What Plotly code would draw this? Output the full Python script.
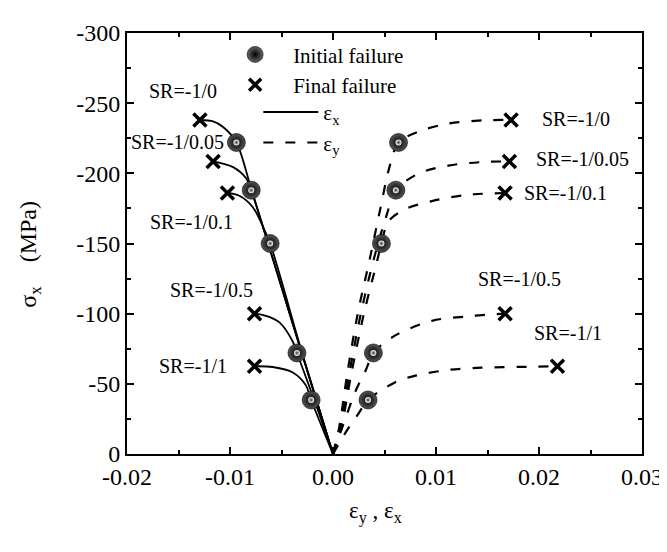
import plotly.graph_objects as go

# ---------------- data ----------------
sr_labels = ["SR=-1/0", "SR=-1/0.05", "SR=-1/0.1", "SR=-1/0.5", "SR=-1/1"]

x_tickvals = [-0.02, -0.01, 0.0, 0.01, 0.02, 0.03]
x_ticktext = ["-0.02", "-0.01", "0.00", "0.01", "0.02", "0.03"]
y_tickvals = [0, -50, -100, -150, -200, -250, -300]
y_ticktext = ["0", "-50", "-100", "-150", "-200", "-250", "-300"]

# initial / final failure points
init_stress = [-222, -188, -150, -72, -38.5]
init_ex = [-0.00938, -0.00794, -0.0061, -0.0035, -0.00212]
init_ey = [0.00636, 0.0061, 0.0047, 0.00392, 0.0034]
final_stress = [-238, -208.5, -186, -100, -62.5]
final_ex = [-0.01292, -0.01164, -0.01025, -0.00762, -0.00762]
final_ey = [0.01729, 0.01713, 0.01671, 0.01671, 0.02179]

# epsilon_x curves (solid)
ex1_e = [0, -0.0040, -0.0079, -0.00938, -0.01067, -0.01164, -0.01292]
ex1_s = [0, -95, -188, -222, -233, -237, -238]
ex2_e = [0, -0.0040, -0.0068, -0.00794, -0.00842, -0.0097, -0.01164]
ex2_s = [0, -95, -162, -188, -196.3, -204.4, -208.5]
ex3_e = [0, -0.0030, -0.0061, -0.0068, -0.0078, -0.0091, -0.01025]
ex3_s = [0, -72, -150, -162, -176, -184, -186]
ex4_e = [0, -0.0017, -0.0035, -0.0039, -0.0052, -0.0065, -0.00762]
ex4_s = [0, -36, -72, -80, -93.8, -98.4, -100]
ex5_e = [0, -0.00212, -0.00263, -0.0039, -0.00585, -0.00762]
ex5_s = [0, -38.5, -48.9, -58.1, -62.0, -62.5]

# epsilon_y curves (dashed)
ey1_e = [0, 0.0006, 0.0014, 0.0024, 0.0036, 0.0046, 0.0055, 0.00636, 0.0083, 0.0112, 0.0147, 0.01729]
ey1_s = [0, -19, -58, -100, -140, -175, -205, -222, -229.7, -235.5, -237.8, -238]
ey2_e = [0, 0.0007, 0.0016, 0.0027, 0.0040, 0.0052, 0.0061, 0.0083, 0.0112, 0.0144, 0.01713]
ey2_s = [0, -19, -58, -100, -140, -170, -188, -199.8, -205.5, -208, -208.5]
ey3_e = [0, 0.0008, 0.0018, 0.0030, 0.0042, 0.0047, 0.0054, 0.0070, 0.0096, 0.0128, 0.01671]
ey3_s = [0, -19, -58, -100, -135, -150, -166, -174.4, -180.2, -184.5, -186]
ey4_e = [0, 0.0009, 0.0022, 0.0032, 0.00392, 0.00605, 0.0096, 0.0128, 0.0154, 0.01671]
ey4_s = [0, -19, -45, -60, -72, -84.5, -94.9, -97.9, -99.5, -100]
ey5_e = [0, 0.0012, 0.0024, 0.0034, 0.00605, 0.0080, 0.0112, 0.0144, 0.0192, 0.02179]
ey5_s = [0, -15, -28, -38.5, -51.2, -55.8, -59.9, -61.5, -62.2, -62.5]

# label anchor positions (data coords)
lab_left_e = [-0.0146, -0.0151, -0.0137, -0.0118, -0.0136]
lab_left_s = [-258.5, -222, -165, -117, -63]
lab_right_e = [0.0236, 0.0242, 0.0226, 0.0181, 0.0228]
lab_right_s = [-239, -210, -186, -125, -86]

FONT = "Liberation Serif, Times New Roman, serif"

fig = go.Figure()

ex_curves = [(ex1_e, ex1_s), (ex2_e, ex2_s), (ex3_e, ex3_s), (ex4_e, ex4_s), (ex5_e, ex5_s)]
ey_curves = [(ey1_e, ey1_s), (ey2_e, ey2_s), (ey3_e, ey3_s), (ey4_e, ey4_s), (ey5_e, ey5_s)]

for e, s in ex_curves:
    fig.add_trace(go.Scatter(x=e, y=s, mode="lines", showlegend=False, hoverinfo="skip",
                             line=dict(color="black", width=1.8, shape="spline", smoothing=0.9)))
for e, s in ey_curves:
    fig.add_trace(go.Scatter(x=e, y=s, mode="lines", showlegend=False, hoverinfo="skip",
                             line=dict(color="black", width=2.2, dash="10px,12px", shape="spline", smoothing=0.9)))

# final failure crosses
fig.add_trace(go.Scatter(x=final_ex + final_ey, y=final_stress + final_stress, mode="markers",
                         showlegend=False,
                         marker=dict(symbol="x-thin", size=13, line=dict(color="black", width=3.5))))

# initial failure spheres (base + highlight)
fig.add_trace(go.Scatter(x=init_ex + init_ey, y=init_stress + init_stress, mode="markers",
                         showlegend=False,
                         marker=dict(symbol="circle", size=18, color="#555555",
                                     gradient=dict(type="radial", color="black"),
                                     line=dict(color="black", width=0.6))))
fig.add_trace(go.Scatter(x=init_ex + init_ey, y=init_stress + init_stress, mode="markers",
                         showlegend=False, hoverinfo="skip",
                         marker=dict(symbol="circle", size=6, color="white",
                                     gradient=dict(type="radial", color="#393939"),
                                     line=dict(width=0))))

# legend-only entries
fig.add_trace(go.Scatter(x=[None], y=[None], mode="markers", name="Initial failure", legend="legend",
                         marker=dict(symbol="circle", size=16, color="#666666",
                                     gradient=dict(type="radial", color="black"),
                                     line=dict(color="black", width=0.6))))
fig.add_trace(go.Scatter(x=[None], y=[None], mode="markers", name="Final failure", legend="legend",
                         marker=dict(symbol="x-thin", size=12, line=dict(color="black", width=3.5))))
fig.add_trace(go.Scatter(x=[None], y=[None], mode="lines", name="ε<sub>x</sub>", legend="legend2",
                         line=dict(color="black", width=2)))
fig.add_trace(go.Scatter(x=[None], y=[None], mode="lines", name="ε<sub>y</sub>", legend="legend2",
                         line=dict(color="black", width=2, dash="10px,12px")))

annotations = []
for lab, e, s in zip(sr_labels, lab_left_e, lab_left_s):
    annotations.append(dict(x=e, y=s, text=lab, showarrow=False, xref="x", yref="y",
                            font=dict(family=FONT, size=20, color="black")))
for lab, e, s in zip(sr_labels, lab_right_e, lab_right_s):
    annotations.append(dict(x=e, y=s, text=lab, showarrow=False, xref="x", yref="y",
                            font=dict(family=FONT, size=20, color="black")))

annotations.append(dict(x=-0.222, y=0.475, xref="paper", yref="paper", showarrow=False,
                        text="σ<sub>x</sub>\u00a0\u00a0\u00a0\u00a0(MPa)", textangle=-90,
                        font=dict(family=FONT, size=24, color="black")))
annotations.append(dict(x=0.483, y=-0.178, xref="paper", yref="paper", showarrow=False,
                        text="ε<sub>y</sub> , ε<sub>x</sub>",
                        font=dict(family=FONT, size=23, color="black")))

axis_common = dict(showline=True, linecolor="black", linewidth=2, mirror="ticks",
                   ticks="inside", ticklen=7, tickwidth=1.5, tickcolor="black",
                   showgrid=False, zeroline=False,
                   tickfont=dict(family=FONT, size=24, color="black"))

legend_font = dict(family=FONT, size=21, color="black")

fig.update_layout(
    width=667, height=552,
    margin=dict(l=119, r=30, t=12, b=106),
    plot_bgcolor="white", paper_bgcolor="white",
    font=dict(family=FONT, color="black"),
    xaxis=dict(range=[-0.02, 0.03], tickvals=x_tickvals, ticktext=x_ticktext,
               minor=dict(ticks="inside", dtick=0.005, ticklen=4, tickwidth=1.5, tickcolor="black"),
               **axis_common),
    yaxis=dict(range=[0, -300], tickvals=y_tickvals, ticktext=y_ticktext,
               minor=dict(ticks="inside", dtick=25, ticklen=4, tickwidth=1.5, tickcolor="black"),
               **axis_common),
    legend=dict(x=0.175, y=0.997, xanchor="left", yanchor="top",
                bgcolor="rgba(0,0,0,0)", borderwidth=0, itemwidth=66,
                font=legend_font, tracegroupgap=0, itemsizing="trace"),
    legend2=dict(x=0.255, y=0.86, xanchor="left", yanchor="top",
                 bgcolor="rgba(0,0,0,0)", borderwidth=0, itemwidth=55,
                 font=legend_font, tracegroupgap=0),
    annotations=annotations,
    showlegend=True,
)

fig.write_html("out.html")
